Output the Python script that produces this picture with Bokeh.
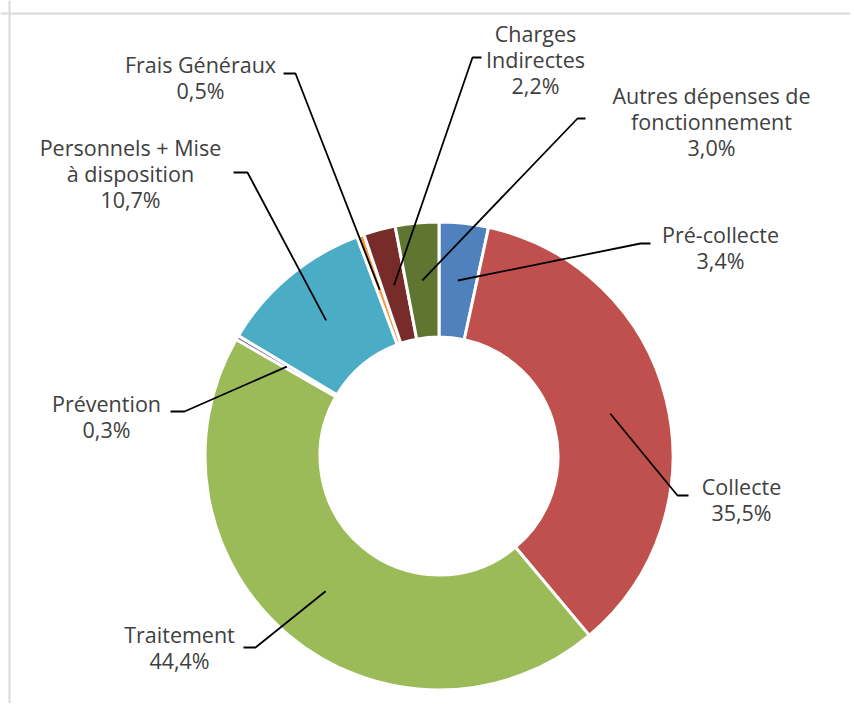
import numpy as np
from bokeh.plotting import figure
from bokeh.models import ColumnDataSource, Range1d, Span
from bokeh.core.properties import value
from bokeh.embed import file_html
from bokeh.resources import INLINE

# ---- data ----
categories = ["Pré-collecte", "Collecte", "Traitement", "Prévention",
              "Personnels + Mise à disposition", "Frais Généraux",
              "Charges Indirectes", "Autres dépenses de fonctionnement"]
shares = [3.4, 35.5, 44.4, 0.3, 10.7, 0.5, 2.2, 3.0]
pct_labels = ["3,4%", "35,5%", "44,4%", "0,3%", "10,7%", "0,5%", "2,2%", "3,0%"]
name_lines = [["Pré-collecte"], ["Collecte"], ["Traitement"], ["Prévention"],
              ["Personnels + Mise", "à disposition"], ["Frais Généraux"],
              ["Charges", "Indirectes"], ["Autres dépenses de", "fonctionnement"]]
colors = ["#4F81BD", "#C0504D", "#9BBB59", "#8064A2",
          "#4BACC6", "#F79646", "#772C2A", "#5F7530"]

# ---- layout (page pixel coordinates) ----
CX, CY = 438.5, 455.5
R_OUT, R_IN = 234, 119
# label text centre x, first line y
label_pos = [(720, 234), (741, 486), (179, 634), (106, 403),
             (130, 147), (200, 64), (535, 33), (711, 95)]
# leader elbow and end points
elbows = [(640, 243), (677, 495), (255, 647), (184, 411),
          (247, 172), (295, 73), (472, 57), (577, 118)]
ends = [(650, 243), (688, 495), (243, 647), (170, 411),
        (233, 172), (283, 73), (481, 57), (585, 118)]
LINE_H = 26

W, H = 850, 703
p = figure(width=W, height=H, output_backend="svg", toolbar_location=None,
           x_range=Range1d(0, W), y_range=Range1d(-H, 0),
           min_border=0)
p.axis.visible = False
p.grid.visible = False
p.outline_line_color = None
p.background_fill_color = "white"

frac = np.array(shares) / sum(shares)
cum = np.concatenate([[0], np.cumsum(frac)])
starts = np.pi / 2 - 2 * np.pi * cum[:-1]
stops = np.pi / 2 - 2 * np.pi * cum[1:]
src = ColumnDataSource(dict(start=starts, end=stops, color=colors, cat=categories))
p.annular_wedge(x=CX, y=-CY, inner_radius=R_IN, outer_radius=R_OUT,
                inner_radius_units="screen", outer_radius_units="screen",
                start_angle="start", end_angle="end", direction="clock",
                fill_color="color", line_color="white", line_width=3, source=src)

# leader lines
mid = 2 * np.pi * (cum[:-1] + cum[1:]) / 2
r_mid = (R_OUT + R_IN) / 2
xs, ys = [], []
for i in range(len(shares)):
    sx = CX + r_mid * np.sin(mid[i])
    sy = CY - r_mid * np.cos(mid[i])
    xs.append([sx, elbows[i][0], ends[i][0]])
    ys.append([-sy, -elbows[i][1], -ends[i][1]])
p.multi_line(xs=xs, ys=ys, line_color="black", line_width=1.8)

# labels
tx, ty, tt = [], [], []
for i in range(len(shares)):
    lines = name_lines[i] + [pct_labels[i]]
    for k, t in enumerate(lines):
        tx.append(label_pos[i][0])
        ty.append(-(label_pos[i][1] + k * LINE_H))
        tt.append(t)
p.text(x=tx, y=ty, text=tt, text_align="center", text_baseline="middle",
       text_font=value("Open Sans"), text_font_size="21.5px", text_color="#404040")

# frame lines
p.add_layout(Span(location=9, dimension="height", line_color="#D9D9D9", line_width=2))
p.add_layout(Span(location=-13, dimension="width", line_color="#D9D9D9", line_width=2))

open("out.html", "w").write(file_html(p, INLINE))
